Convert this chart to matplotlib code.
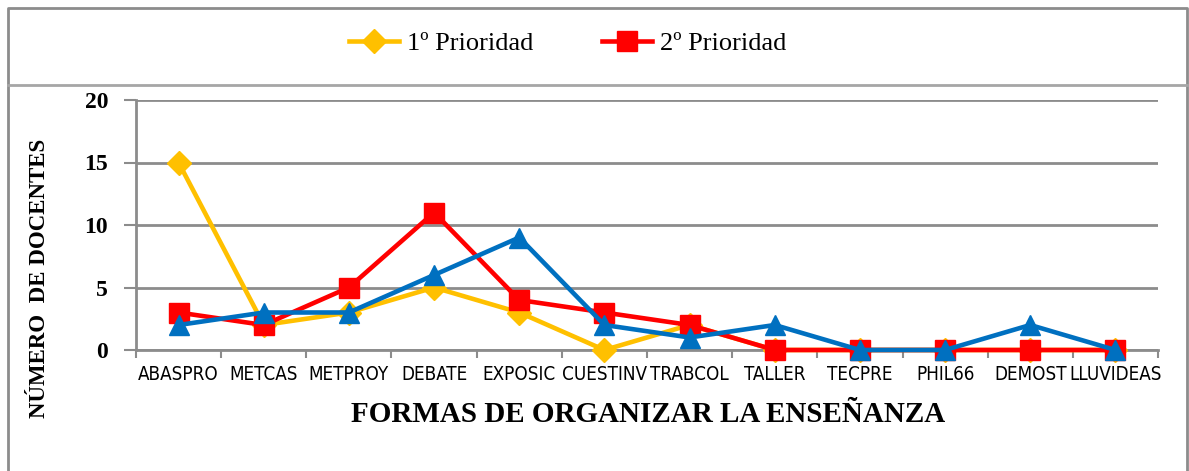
import numpy as np
import matplotlib
matplotlib.use('Agg')
import matplotlib.pyplot as plt
from matplotlib.lines import Line2D

# chart data
categorias = ['ABASPRO', 'METCAS', 'METPROY', 'DEBATE', 'EXPOSIC', 'CUESTINV',
              'TRABCOL', 'TALLER', 'TECPRE', 'PHIL66', 'DEMOST', 'LLUVIDEAS']
prioridad_1 = [15, 2, 3, 5, 3, 0, 2, 0, 0, 0, 0, 0]
prioridad_2 = [3, 2, 5, 11, 4, 3, 2, 0, 0, 0, 0, 0]
prioridad_3 = [2, 3, 3, 6, 9, 2, 1, 2, 0, 0, 2, 0]
y_ticks = [0, 5, 10, 15, 20]

W, H = 1189, 471
fig = plt.figure(figsize=(W / 100, H / 100), dpi=100)

# outer frame and separator under the legend
gray = '#8c8c8c'
frame = Line2D([8 / W, 8 / W, 1187 / W, 1187 / W], [0, 1 - 8 / H, 1 - 8 / H, 0],
               transform=fig.transFigure, color=gray, lw=2)
sep = Line2D([8 / W, 1187 / W], [1 - 85 / H, 1 - 85 / H],
             transform=fig.transFigure, color='#a6a6a6', lw=2)
fig.add_artist(frame)
fig.add_artist(sep)

ax = fig.add_axes([136 / W, 1 - 350 / H, (1158 - 136) / W, 250 / H])
x = np.arange(len(categorias))

l1, = ax.plot(x, prioridad_1, color='#FFC000', lw=3.3, marker='D', ms=12,
              zorder=3, clip_on=False)
l2, = ax.plot(x, prioridad_2, color='#FF0000', lw=3.3, marker='s', ms=14,
              zorder=4, clip_on=False)
l3, = ax.plot(x, prioridad_3, color='#0070C0', lw=3.3, marker='^', ms=14,
              zorder=5, clip_on=False)

ax.set_xlim(-0.5, len(categorias) - 0.5)
ax.set_ylim(0, 20)
ax.set_yticks(y_ticks)
ax.set_yticklabels([str(v) for v in y_ticks], fontfamily='Liberation Serif',
                   fontweight='bold', fontsize=17)
ax.grid(axis='y', color=gray, lw=2)
ax.set_axisbelow(True)

ax.set_xticks(x)
ax.set_xticklabels(categorias, fontfamily='DejaVu Sans', fontstretch='condensed',
                   fontsize=13.5)
ax.set_xticks(np.arange(-0.5, len(categorias)), minor=True)
ax.tick_params(axis='x', which='major', length=0, pad=11)
ax.tick_params(axis='x', which='minor', length=6, width=1.5, color=gray,
               direction='out')
ax.tick_params(axis='y', length=9, width=1.5, color=gray, pad=11)

for side in ['top', 'right']:
    ax.spines[side].set_visible(False)
ax.spines['left'].set_color(gray)
ax.spines['left'].set_linewidth(2)
ax.spines['bottom'].set_color(gray)
ax.spines['bottom'].set_linewidth(2)

fig.text(648 / W, 1 - 415 / H, 'FORMAS DE ORGANIZAR LA ENSEÑANZA',
         ha='center', va='center', fontfamily='Liberation Serif',
         fontweight='bold', fontsize=21)
fig.text(40 / W, 1 - 278 / H, 'NÚMERO  DE DOCENTES', rotation=90,
         ha='center', va='center', fontfamily='Liberation Serif',
         fontweight='bold', fontsize=16.5)

fig.legend([l1, l2], ['1º Prioridad', '2º Prioridad'], loc='center',
           bbox_to_anchor=(568 / W, 1 - 43 / H), ncol=2, frameon=False,
           prop={'family': 'Liberation Serif', 'size': 19},
           handlelength=1.9, columnspacing=2.6, handletextpad=0.3)

fig.savefig('out.png', dpi=100)
